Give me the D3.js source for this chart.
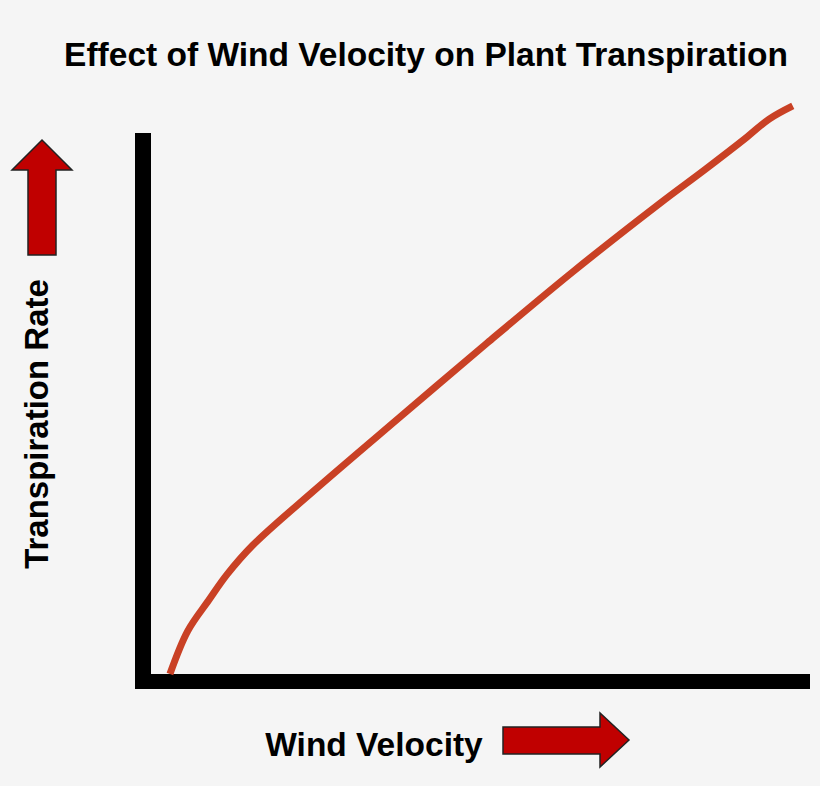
<!DOCTYPE html><html><head><script src="https://d3js.org/d3.v7.min.js"></script>
<style>body{margin:0;background:#f5f5f5}</style></head><body><script>
const xVals=[0.041,0.068,0.100,0.128,0.167,0.259,0.391,0.524,0.656,0.787,0.854,0.919,0.953,0.989];
const yVals=[0.0,0.078,0.134,0.181,0.234,0.332,0.467,0.602,0.733,0.856,0.916,0.976,1.009,1.033];
const title="Effect of Wind Velocity on Plant Transpiration";
const xLabel="Wind Velocity", yLabel="Transpiration Rate";
const W=820,H=786;
const svg=d3.select("body").append("svg").attr("width",W).attr("height",H).style("background","#f5f5f5");
const x=d3.scaleLinear().domain([0,1]).range([143,800]);
const y=d3.scaleLinear().domain([0,1]).range([674,124]);
svg.append("text").attr("x",426).attr("y",66).attr("text-anchor","middle").attr("font-family","Liberation Sans, Arial").attr("font-weight","bold").attr("font-size",33.5).text(title);
svg.append("rect").attr("x",135).attr("y",133).attr("width",16).attr("height",556).attr("fill","#000");
svg.append("rect").attr("x",135).attr("y",674).attr("width",675).attr("height",15).attr("fill","#000");
const pts=xVals.map((v,i)=>[v,yVals[i]]);
svg.append("path").datum(pts).attr("fill","none").attr("stroke","#c94125").attr("stroke-width",7)
 .attr("d",d3.line().x(d=>x(d[0])).y(d=>y(d[1])).curve(d3.curveCatmullRom));
svg.append("text").attr("transform","translate(48,424) rotate(-90)").attr("text-anchor","middle").attr("font-family","Liberation Sans, Arial").attr("font-weight","bold").attr("font-size",33).text(yLabel);
svg.append("text").attr("x",374).attr("y",756).attr("text-anchor","middle").attr("font-family","Liberation Sans, Arial").attr("font-weight","bold").attr("font-size",33.5).text(xLabel);
svg.append("path").attr("d","M28,255 L56,255 L56,170 L72,170 L42,140 L12,170 L28,170 Z").attr("fill","#c00000").attr("stroke","#222").attr("stroke-width",1.5);
svg.append("path").attr("d","M503,727 L600,727 L600,713 L629,740 L600,767 L600,754 L503,754 Z").attr("fill","#c00000").attr("stroke","#222").attr("stroke-width",1.5);
</script></body></html>
